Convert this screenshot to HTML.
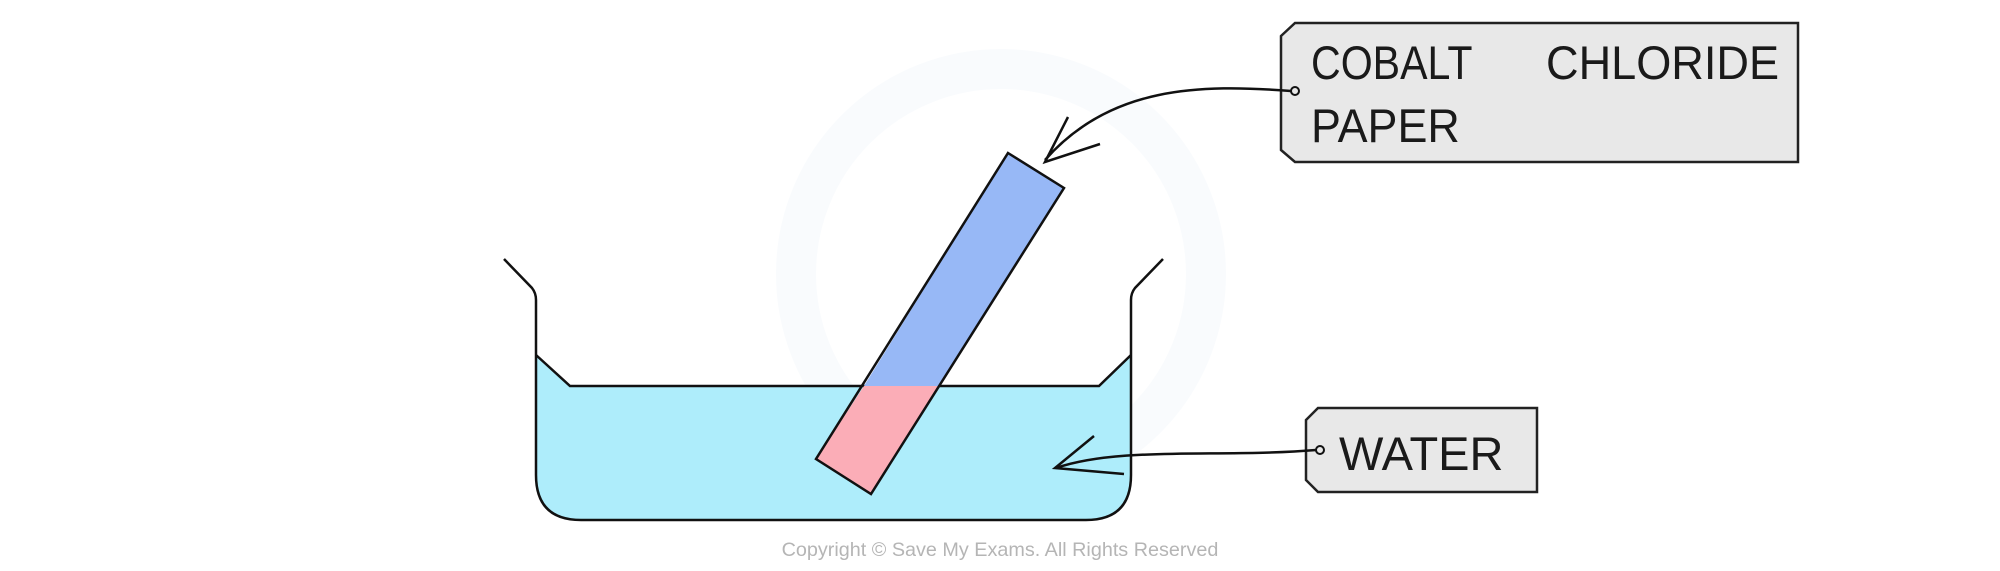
<!DOCTYPE html>
<html><head><meta charset="utf-8"><style>html,body{margin:0;padding:0;background:#fff;}svg{display:block}</style></head>
<body>
<svg width="2000" height="571" viewBox="0 0 2000 571" xmlns="http://www.w3.org/2000/svg">
<circle cx="1001" cy="274" r="205" fill="none" stroke="#f9fbfd" stroke-width="40"/>
<path d="M536,355 L570,386 L1099,386 L1131,355 L1131,475 Q1131,520 1086,520 L581,520 Q536,520 536,475 Z" fill="#aeedfb" stroke="none"/>
<path d="M536,355 L570,386 L1099,386 L1131,355" fill="none" stroke="#111" stroke-width="2.5"/>
<path d="M504,259 L532,288 Q536,293 536,300 L536,475 Q536,520 581,520 L1086,520 Q1131,520 1131,475 L1131,300 Q1131,293 1135,288 L1163,259" fill="none" stroke="#111" stroke-width="2.5"/>
<polygon points="1008,153 1064,188 940,386 864,386" fill="#97b8f6"/>
<polygon points="864,386 940,386 871,494 816,459" fill="#fbadb7"/>
<polygon points="1008,153 1064,188 871,494 816,459" fill="none" stroke="#111" stroke-width="2.5" stroke-linejoin="miter"/>
<path d="M1295,23 L1798,23 L1798,162 L1295,162 L1281,150 L1281,36 Z" fill="#e8e8e8" stroke="#222" stroke-width="2.5"/>
<path d="M1318,408 L1537,408 L1537,492 L1318,492 L1306,480 L1306,420 Z" fill="#e8e8e8" stroke="#222" stroke-width="2.5"/>
<g font-family="Liberation Sans, sans-serif" font-size="47" fill="#1a1a1a">
<text transform="translate(1311,79) scale(0.875,1)" x="0" y="0">COBALT</text>
<text transform="translate(1546,79) scale(0.96,1)" x="0" y="0">CHLORIDE</text>
<text transform="translate(1311,142) scale(0.955,1)" x="0" y="0">PAPER</text>
<text transform="translate(1339,470) scale(1,1)" x="0" y="0">WATER</text>
</g>
<circle cx="1295" cy="91" r="4" fill="none" stroke="#111" stroke-width="2"/>
<path d="M1291,91 C1200,84 1110,86 1045,160" fill="none" stroke="#111" stroke-width="2.5"/>
<path d="M1068,117 L1045,162 L1100,144" fill="none" stroke="#111" stroke-width="2.5"/>
<circle cx="1320" cy="450" r="4" fill="none" stroke="#111" stroke-width="2"/>
<path d="M1316,450 C1220,458 1120,446 1056,468" fill="none" stroke="#111" stroke-width="2.5"/>
<path d="M1094,436 L1055,468 L1124,474" fill="none" stroke="#111" stroke-width="2.5"/>
<text x="1000" y="556" text-anchor="middle" font-family="Liberation Sans, sans-serif" font-size="19.8" fill="#b5b5b5">Copyright © Save My Exams. All Rights Reserved</text>
</svg>
</body></html>
